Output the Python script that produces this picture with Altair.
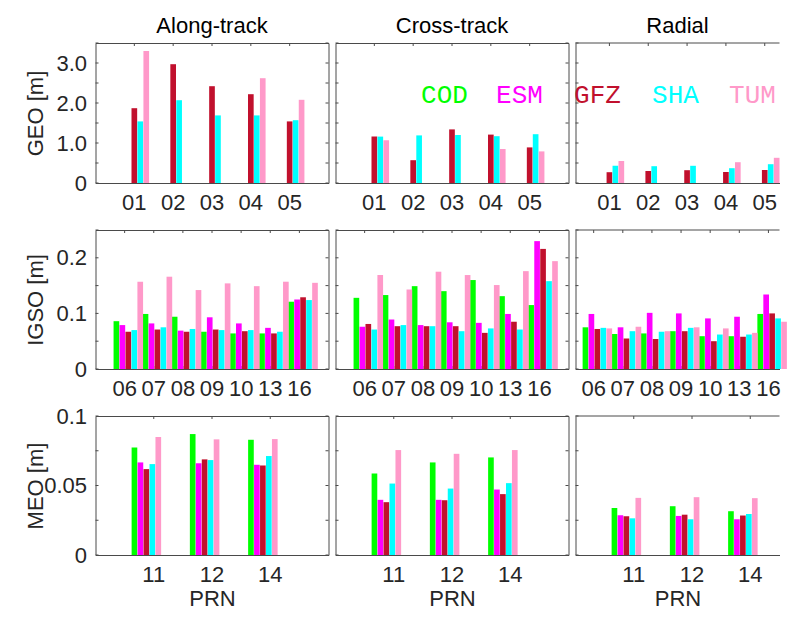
import math
import altair as alt
import pandas as pd

NaN = float("nan")

SERIES = ["COD", "ESM", "GFZ", "SHA", "TUM"]
COLORS = ["#00FF00", "#FF00FF", "#C1102D", "#00FFFF", "#FF99C9"]
COMPONENTS = ["Along-track", "Cross-track", "Radial"]
ORBIT_TITLES = ["GEO [m]", "IGSO [m]", "MEO [m]"]

GEO_PRN = ["01", "02", "03", "04", "05"]
IGSO_PRN = ["06", "07", "08", "09", "10", "13", "16"]
MEO_PRN = ["11", "12", "14"]

# ---- GEO (COD and ESM give no GEO values, TUM none for 02/03) ----
GEO_ALONG = {
    "GFZ": [1.87, 2.97, 2.42, 2.22, 1.54],
    "SHA": [1.54, 2.07, 1.69, 1.69, 1.57],
    "TUM": [3.30, NaN, NaN, 2.62, 2.08],
}
GEO_CROSS = {
    "GFZ": [1.16, 0.57, 1.34, 1.21, 0.89],
    "SHA": [1.16, 1.19, 1.20, 1.17, 1.22],
    "TUM": [1.07, NaN, NaN, 0.85, 0.79],
}
GEO_RADIAL = {
    "GFZ": [0.27, 0.30, 0.32, 0.275, 0.325],
    "SHA": [0.43, 0.42, 0.43, 0.37, 0.47],
    "TUM": [0.55, NaN, NaN, 0.52, 0.63],
}

# ---- IGSO ----
IGSO_ALONG = {
    "COD": [0.086, 0.099, 0.094, 0.067, 0.064, 0.064, 0.121],
    "ESM": [0.079, 0.082, 0.069, 0.093, 0.082, 0.074, 0.125],
    "GFZ": [0.067, 0.071, 0.067, 0.071, 0.068, 0.064, 0.129],
    "SHA": [0.070, 0.075, 0.072, 0.070, 0.070, 0.067, 0.124],
    "TUM": [0.157, 0.166, 0.142, 0.154, 0.149, 0.157, 0.155],
}
IGSO_CROSS = {
    "COD": [0.128, 0.133, 0.149, 0.140, 0.160, 0.131, 0.115],
    "ESM": [0.076, 0.089, 0.079, 0.084, 0.083, 0.099, 0.230],
    "GFZ": [0.081, 0.077, 0.077, 0.077, 0.065, 0.085, 0.216],
    "SHA": [0.071, 0.079, 0.077, 0.068, 0.073, 0.071, 0.158],
    "TUM": [0.169, 0.143, 0.175, 0.169, 0.151, 0.176, 0.194],
}
IGSO_RADIAL = {
    "COD": [0.075, 0.063, 0.064, 0.068, 0.059, 0.059, 0.099],
    "ESM": [0.099, 0.075, 0.101, 0.100, 0.091, 0.094, 0.134],
    "GFZ": [0.072, 0.055, 0.054, 0.068, 0.050, 0.058, 0.100],
    "SHA": [0.074, 0.068, 0.067, 0.074, 0.062, 0.062, 0.091],
    "TUM": [0.073, 0.076, 0.068, 0.075, 0.073, 0.065, 0.085],
}

# ---- MEO ----
MEO_ALONG = {
    "COD": [0.0774, 0.0870, 0.0829],
    "ESM": [0.0666, 0.0660, 0.0649],
    "GFZ": [0.0618, 0.0688, 0.0644],
    "SHA": [0.0654, 0.0683, 0.0712],
    "TUM": [0.0849, 0.0832, 0.0834],
}
MEO_CROSS = {
    "COD": [0.0587, 0.0666, 0.0702],
    "ESM": [0.0397, 0.0397, 0.0471],
    "GFZ": [0.0380, 0.0394, 0.0438],
    "SHA": [0.0514, 0.0478, 0.0517],
    "TUM": [0.0755, 0.0728, 0.0755],
}
MEO_RADIAL = {
    "COD": [0.0339, 0.0351, 0.0315],
    "ESM": [0.0286, 0.0281, 0.0257],
    "GFZ": [0.0279, 0.0290, 0.0284],
    "SHA": [0.0264, 0.0257, 0.0295],
    "TUM": [0.0411, 0.0416, 0.0409],
}

GEO_Y_LABELS = [0, 1.0, 2.0, 3.0]
GEO_Y_TICKS = [0, 0.5, 1.0, 1.5, 2.0, 2.5, 3.0, 3.5]
IGSO_Y_LABELS = [0, 0.1, 0.2]
IGSO_Y_TICKS = [0, 0.05, 0.1, 0.15, 0.2, 0.25]
MEO_Y_LABELS = [0, 0.05, 0.1]
MEO_Y_TICKS = [0, 0.025, 0.05, 0.075, 0.1]

PRNS = [GEO_PRN, IGSO_PRN, MEO_PRN]
VALUES = [
    [GEO_ALONG, GEO_CROSS, GEO_RADIAL],
    [IGSO_ALONG, IGSO_CROSS, IGSO_RADIAL],
    [MEO_ALONG, MEO_CROSS, MEO_RADIAL],
]
Y_DOMAIN = [[0, 3.5], [0, 0.25], [0, 0.1]]
Y_LABELS = [GEO_Y_LABELS, IGSO_Y_LABELS, MEO_Y_LABELS]
Y_TICKS = [GEO_Y_TICKS, IGSO_Y_TICKS, MEO_Y_TICKS]
Y_EXPR = [
    "datum.value == 0 ? '0' : format(datum.value, '.1f')",
    "format(datum.value, '~g')",
    "format(datum.value, '~g')",
]

# ---- style / layout ----
FONT = "Liberation Sans"
FS = 22
TXT = "#262626"
FRAME = "#4a4a4a"
TICK = 3
FULL_W = 233
PANEL_W = [233, 233, 204]      # right column is cut by the page edge, as in the original
PANEL_H = [140, 139, 139]
PAD_INNER = 0.24
LEFT_OUTER = 0.62
Y_TITLE_PAD = [8, 8, -4]

LEGEND_POS = {1: [("COD", 109), ("ESM", 184)],
              2: [("GFZ", 22), ("SHA", 100), ("TUM", 177)]}


def panel(r, c):
    cats = PRNS[r]
    vals = VALUES[r][c]
    W, H = PANEL_W[c], PANEL_H[r]
    n = len(cats)
    step = FULL_W / (n + 1)
    total = W - step * (n - PAD_INNER)
    x_scale = alt.Scale(domain=cats, paddingInner=PAD_INNER,
                        paddingOuter=total / (2 * step),
                        align=min(1.0, LEFT_OUTER * step / total))
    y_scale = alt.Scale(domain=Y_DOMAIN[r], nice=False, zero=True)
    last = (c == 2)

    rows = []
    for s in SERIES:
        if s in vals:
            for p, v in zip(cats, vals[s]):
                if not math.isnan(v):
                    rows.append({"prn": p, "series": s, "value": v})
    base = alt.Chart(pd.DataFrame(rows))

    color = alt.Color("series:N", scale=alt.Scale(domain=SERIES, range=COLORS), legend=None)
    offset = alt.XOffset("series:N", scale=alt.Scale(domain=SERIES, paddingInner=0.05, paddingOuter=0))

    x_main = alt.X(
        "prn:N", scale=x_scale, title="PRN" if r == 2 else None,
        axis=alt.Axis(orient="bottom", labelAngle=0, ticks=False, domain=last,
                      domainColor=FRAME, grid=False, labelFont=FONT, labelFontSize=FS,
                      labelColor=TXT, labelPadding=9.5, labelOverlap=False,
                      titleFont=FONT, titleFontSize=FS, titleFontWeight="normal",
                      titleColor=TXT, titlePadding=3))
    y_main = alt.Y(
        "value:Q", scale=y_scale, title=ORBIT_TITLES[r] if c == 0 else None,
        axis=alt.Axis(orient="left", values=Y_LABELS[r], labelExpr=Y_EXPR[r],
                      labels=(c == 0), ticks=False, domain=last, domainColor=FRAME,
                      grid=False, labelFont=FONT, labelFontSize=FS, labelColor=TXT,
                      labelPadding=9, titleFont=FONT, titleFontSize=FS,
                      titleFontWeight="normal", titleColor=TXT,
                      titlePadding=Y_TITLE_PAD[r]))

    # inward tick marks, placed through the shared scales
    xt = alt.Chart(pd.DataFrame({"prn": cats}))
    yt = alt.Chart(pd.DataFrame({"v": Y_TICKS[r]}))
    tick_style = dict(color=FRAME, strokeWidth=1)
    x_tick_enc = alt.X("prn:N", axis=None)
    y_tick_enc = alt.Y("v:Q", axis=None)
    layers = [
        xt.mark_rule(**tick_style).encode(x=x_tick_enc, y=alt.value(H), y2=alt.value(H - TICK)),
        xt.mark_rule(**tick_style).encode(x=x_tick_enc, y=alt.value(0), y2=alt.value(TICK)),
        yt.mark_rule(**tick_style).encode(y=y_tick_enc, x=alt.value(0), x2=alt.value(TICK)),
    ]
    if last:
        # open-right frame: top edge drawn at the top of the y domain
        top = alt.Chart(pd.DataFrame({"v": [Y_DOMAIN[r][1]]}))
        layers.append(top.mark_rule(**tick_style).encode(
            y=y_tick_enc, x=alt.value(0), x2=alt.value(W)))
    else:
        layers.append(yt.mark_rule(**tick_style).encode(
            y=y_tick_enc, x=alt.value(W - TICK), x2=alt.value(W)))
    layers.append(base.mark_bar().encode(x=x_main, xOffset=offset, y=y_main, color=color))

    if r == 0 and c in LEGEND_POS:
        for name, px in LEGEND_POS[c]:
            layers.append(
                alt.Chart(pd.DataFrame({"label": [name]})).mark_text(
                    font="Liberation Mono", fontSize=26, align="center",
                    baseline="middle", color=COLORS[SERIES.index(name)]
                ).encode(text="label:N", x=alt.value(px), y=alt.value(52))
            )
    ch = alt.layer(*layers).resolve_axis(x="independent", y="independent").properties(
        width=W, height=H)
    if last:
        ch = ch.properties(view=alt.ViewBackground(stroke="transparent"))
    if r == 0:
        ch = ch.properties(title=alt.TitleParams(
            text=COMPONENTS[c], font=FONT, fontSize=FS, fontWeight="normal",
            color="#000000", offset=-12, baseline="alphabetic", anchor="middle"))
    return ch


panels = [panel(r, c) for r in range(3) for c in range(3)]

chart = alt.concat(
    *panels, columns=3, spacing={"row": 47, "column": 7}, bounds="flush"
).properties(
    padding={"left": 15.5, "top": 6, "right": 0, "bottom": 0}
).configure_view(stroke=FRAME, strokeWidth=1)

chart.save("out.html", embed_options={"renderer": "svg", "actions": False})
